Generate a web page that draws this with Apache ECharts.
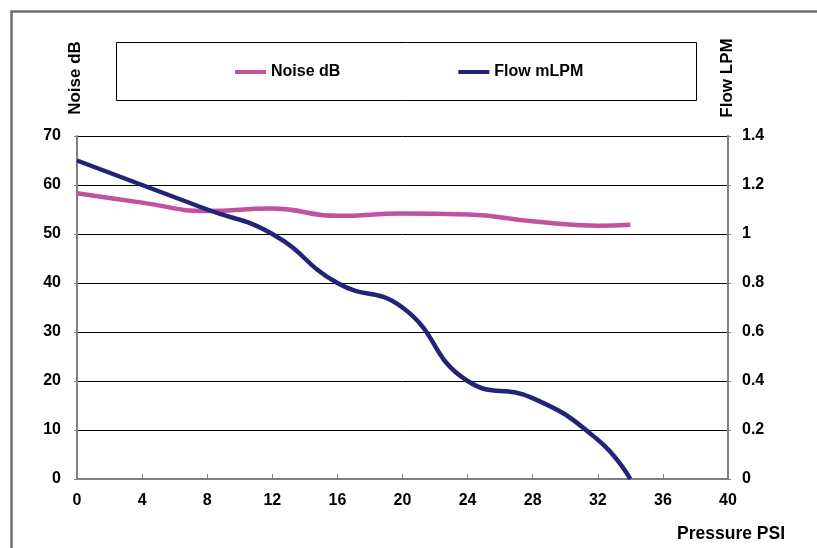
<!DOCTYPE html>
<html>
<head>
<meta charset="utf-8">
<script src="https://cdn.jsdelivr.net/npm/echarts@6/dist/echarts.min.js"></script>
<style>
html,body{margin:0;padding:0;background:#fff;}
#chart{width:817px;height:548px;}
</style>
</head>
<body>
<div id="chart"></div>
<script>
var pressure = [0, 4, 8, 12, 16, 20, 24, 28, 32, 34];
var noiseDb  = [58.3, 56.4, 54.7, 55.2, 53.7, 54.2, 54.0, 52.6, 51.7, 51.9];
var flowLpm  = [1.30, 1.20, 1.10, 1.00, 0.80, 0.70, 0.40, 0.33, 0.16, 0.00];
var seriesNames = ['Noise dB', 'Flow mLPM'];
var axisTitles = {left: 'Noise dB', right: 'Flow LPM', bottom: 'Pressure PSI'};

var FONT = '"Liberation Sans", Arial, sans-serif';
function pairs(xs, ys){ return xs.map(function(x,i){ return [x, ys[i]]; }); }

var chart = echarts.init(document.getElementById('chart'), null, {renderer:'canvas'});
chart.setOption({
  animation: false,
  backgroundColor: '#ffffff',
  grid: {left: 77, right: 89, top: 136, bottom: 69, containLabel: false},
  legend: {
    left: 235, top: 64, padding: 0,
    icon: 'rect', itemWidth: 31, itemHeight: 4, itemGap: 118,
    textStyle: {fontFamily: FONT, fontWeight: 'bold', fontSize: 16, color: '#000'},
    data: seriesNames
  },
  xAxis: {
    type: 'value', min: 0, max: 40, interval: 4,
    axisLine: {show: true, lineStyle: {color: '#808080', width: 2}},
    axisTick: {show: true, inside: true, length: 5, lineStyle: {color: '#808080', width: 1}},
    axisLabel: {margin: 14, fontFamily: FONT, fontWeight: 'bold', fontSize: 16, color: '#000'},
    splitLine: {show: false}
  },
  yAxis: [{
    type: 'value', min: 0, max: 70, interval: 10, position: 'left',
    axisLine: {show: true, lineStyle: {color: '#808080', width: 2}},
    axisTick: {show: true, length: 3, lineStyle: {color: '#808080', width: 1}},
    axisLabel: {margin: 16, fontFamily: FONT, fontWeight: 'bold', fontSize: 16, color: '#000'},
    splitLine: {show: true, lineStyle: {color: '#000', width: 1}}
  },{
    type: 'value', min: 0, max: 1.4, interval: 0.2, position: 'right',
    axisLine: {show: true, lineStyle: {color: '#808080', width: 2}},
    axisTick: {show: true, length: 3, lineStyle: {color: '#808080', width: 1}},
    axisLabel: {margin: 14, fontFamily: FONT, fontWeight: 'bold', fontSize: 16, color: '#000'},
    splitLine: {show: false}
  }],
  graphic: [
    {type: 'rect', left: 9, top: 9, silent: true,
     shape: {x: 0, y: 0, width: 900, height: 700},
     style: {fill: 'none', stroke: '#707070', lineWidth: 2.5}},
    {type: 'rect', silent: true,
     shape: {x: 116.5, y: 42.5, width: 580, height: 58},
     style: {fill: 'none', stroke: '#000', lineWidth: 1}},
    {type: 'text', x: 75, y: 78, rotation: Math.PI/2,
     style: {text: axisTitles.left, align: 'center', verticalAlign: 'middle',
             font: 'bold 17px ' + FONT, fill: '#000'}},
    {type: 'text', x: 727, y: 78, rotation: Math.PI/2,
     style: {text: axisTitles.right, align: 'center', verticalAlign: 'middle',
             font: 'bold 17px ' + FONT, fill: '#000'}},
    {type: 'text', x: 785, y: 534,
     style: {text: axisTitles.bottom, align: 'right', verticalAlign: 'middle',
             font: 'bold 17.5px ' + FONT, fill: '#000'}}
  ],
  series: [{
    name: seriesNames[0], type: 'line', yAxisIndex: 0, smooth: 0.5,
    showSymbol: false, symbol: 'none',
    data: pairs(pressure, noiseDb),
    itemStyle: {color: '#C0529E'},
    lineStyle: {color: '#C0529E', width: 4.5}
  },{
    name: seriesNames[1], type: 'line', yAxisIndex: 1, smooth: 0.5,
    showSymbol: false, symbol: 'none',
    data: pairs(pressure, flowLpm),
    itemStyle: {color: '#232377'},
    lineStyle: {color: '#232377', width: 4.5}
  }]
});
</script>
</body>
</html>
